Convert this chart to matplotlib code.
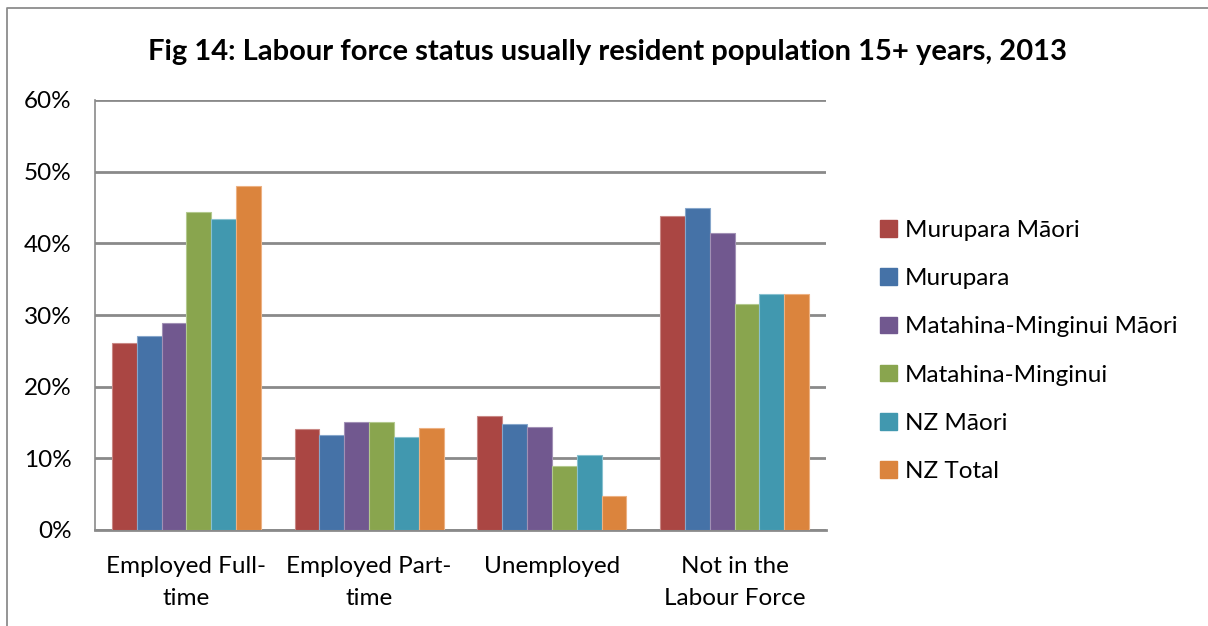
import matplotlib
matplotlib.use("Agg")
import matplotlib.pyplot as plt
import numpy as np
from matplotlib.patches import Patch
from matplotlib.lines import Line2D

categories = ["Employed Full-\ntime", "Employed Part-\ntime", "Unemployed", "Not in the\nLabour Force"]
series_names = ["Murupara Māori", "Murupara", "Matahina-Minginui Māori",
                "Matahina-Minginui", "NZ Māori", "NZ Total"]
murupara_maori = [26.1, 14.1, 15.9, 43.8]
murupara = [27.1, 13.2, 14.75, 44.9]
matahina_maori = [28.9, 15.1, 14.4, 41.4]
matahina = [44.4, 15.1, 8.9, 31.5]
nz_maori = [43.4, 13.0, 10.4, 33.0]
nz_total = [48.0, 14.3, 4.75, 32.9]
series_values = [murupara_maori, murupara, matahina_maori, matahina, nz_maori, nz_total]
colors = ["#AA4643", "#4572A7", "#71588F", "#89A54E", "#4198AF", "#DB843D"]
edge_colors = ["#C98885", "#86A6CB", "#A190B5", "#B3C98E", "#88C1D0", "#EDB182"]
yticks = [0, 10, 20, 30, 40, 50, 60]
title = "Fig 14: Labour force status usually resident population 15+ years, 2013"

plt.rcParams['font.family'] = ['Lato', 'DejaVu Sans']

W, H = 1208, 626
fig = plt.figure(figsize=(W / 100, H / 100), dpi=100)

# outer chart border (left and top edges visible)
fig.lines.append(Line2D([7.5 / W, 7.5 / W, 1.0], [0.0, (H - 8) / H, (H - 8) / H],
                        transform=fig.transFigure, color="#8C8C8C", linewidth=1.3))

ax = fig.add_axes([95 / W, (H - 530) / H, (826 - 95) / W, 430 / H])

x = np.arange(len(categories))
bw = 0.136
for i, (vals, c, ec) in enumerate(zip(series_values, colors, edge_colors)):
    ax.bar(x + (i - 2.5) * bw, vals, width=bw, color=c, edgecolor=ec, linewidth=0.8, zorder=3)

ax.set_xlim(-0.5, len(categories) - 0.5)
ax.set_ylim(0, 60)
ax.set_yticks(yticks)
ax.set_yticklabels([f"{t}%" for t in yticks], fontsize=17.5)
ax.set_xticks(x)
ax.set_xticklabels(categories, fontsize=17.5, linespacing=1.62)
ax.tick_params(axis='both', length=0, colors="#000000")
ax.tick_params(axis='x', pad=19)
ax.tick_params(axis='y', pad=17)
ax.grid(axis='y', color="#8A8A8A", linewidth=2, zorder=0)
for s in ["top", "right"]:
    ax.spines[s].set_visible(False)
ax.spines["left"].set_color("#8A8A8A")
ax.spines["left"].set_linewidth(1.2)
ax.spines["bottom"].set_color("#8A8A8A")
ax.spines["bottom"].set_linewidth(2)

fig.text(608 / W, (H - 52) / H, title, ha="center", va="center", fontsize=21, fontweight="bold")

handles = [Patch(facecolor=c, edgecolor=c) for c in colors]
fig.legend(handles, series_names, loc="upper left", bbox_to_anchor=(880 / W, (H - 220) / H),
           frameon=False, fontsize=17.5, handlelength=0.68, handleheight=0.68,
           handletextpad=0.35, labelspacing=1.12, borderpad=0, borderaxespad=0)

fig.savefig("out.png", dpi=100)
